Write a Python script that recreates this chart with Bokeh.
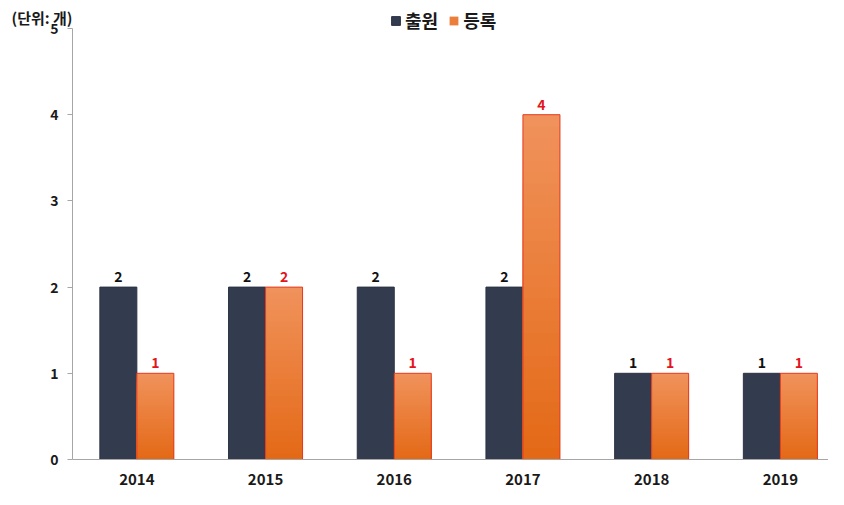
import numpy as np
from bokeh.plotting import figure
from bokeh.models import Range1d, FixedTicker, Legend, LegendItem, Label, ColumnDataSource
from bokeh.core.properties import value
from bokeh.embed import file_html
from bokeh.resources import INLINE

years = ["2014", "2015", "2016", "2017", "2018", "2019"]
series_names = ["출원", "등록"]
applied = [2, 2, 2, 2, 1, 1]
registered = [1, 2, 1, 4, 1, 1]
y_ticks = [0, 1, 2, 3, 4, 5]
unit_text = "(단위: 개)"

FONT = "Noto Sans CJK KR"
DARK = "#333c4e"
OR_TOP = np.array([0xf1, 0x93, 0x5d])
OR_BOT = np.array([0xe4, 0x69, 0x16])
OUTLINE = "#e5391f"

W, H = 828, 489
AXIS_X = 72          # px from left edge where the value axis sits
TOP5 = 28            # px from top where value 5 sits
ZERO = 459           # px from top where value 0 sits
CAT_PX = 128.7
BW = 37 / CAT_PX
YMAX = 5
UNIT_PX = (ZERO - TOP5) / YMAX
YTOP = ZERO / UNIT_PX
YBOT = -(H - ZERO) / UNIT_PX
XMIN = -AXIS_X / CAT_PX
XMAX = (W - AXIS_X) / CAT_PX

centers = np.arange(len(years)) + 0.5

p = figure(width=W, height=H, output_backend="svg", toolbar_location=None,
           x_range=Range1d(XMIN, XMAX), y_range=Range1d(YBOT, YTOP),
           min_border=0)
p.outline_line_color = None
p.xgrid.visible = False
p.ygrid.visible = False
p.background_fill_color = "white"
p.border_fill_color = "white"

# 출원 bars
src_a = ColumnDataSource(dict(x=centers - BW / 2, top=applied, lab=[str(v) for v in applied]))
r_a = p.vbar(x="x", top="top", bottom=0, width=BW, source=src_a, fill_color=DARK,
             line_color="#2b3344", line_width=1)

# 등록 bars with vertical gradient (nested bars, tallest first)
N = 30
xs, tops, cols = [], [], []
for k in range(N - 1, -1, -1):
    f = (k + 0.5) / N
    rgb = (OR_BOT + (OR_TOP - OR_BOT) * f).astype(int)
    col = "#%02x%02x%02x" % tuple(rgb)
    for c, v in zip(centers, registered):
        xs.append(c + BW / 2)
        tops.append(v * (k + 1) / N)
        cols.append(col)
r_r = p.vbar(x=xs, bottom=0, top=tops, width=BW, fill_color=cols, line_color=None)
src_r = ColumnDataSource(dict(x=centers + BW / 2, top=registered, lab=[str(v) for v in registered]))
p.vbar(x="x", top="top", bottom=0, width=BW, source=src_r, fill_color=None, line_color=OUTLINE, line_width=1)

# value labels
p.text(x="x", y="top", text="lab", source=src_a, text_align="center", text_baseline="bottom",
       y_offset=-5, text_font=value(FONT), text_font_style="bold", text_font_size="14px", text_color="#111111")
p.text(x="x", y="top", text="lab", source=src_r, text_align="center", text_baseline="bottom",
       y_offset=-5, text_font=value(FONT), text_font_style="bold", text_font_size="14px", text_color="#e3141c")

# axes
xa = p.xaxis[0]
xa.fixed_location = 0
xa.ticker = FixedTicker(ticks=list(centers))
xa.major_label_overrides = {float(c): y for c, y in zip(centers, years)}
xa.bounds = (0, XMAX)
xa.major_tick_line_color = None
xa.minor_tick_line_color = None
xa.axis_line_color = "#a6a6a6"
xa.major_label_text_font = FONT
xa.major_label_text_font_style = "bold"
xa.major_label_text_font_size = "15px"
xa.major_label_text_color = "#1a1a1a"
xa.major_label_standoff = 8

ya = p.yaxis[0]
ya.fixed_location = 0
ya.bounds = (0, YMAX)
ya.ticker = FixedTicker(ticks=y_ticks)
ya.minor_tick_line_color = None
ya.major_tick_out = 5
ya.major_tick_in = 0
ya.major_tick_line_color = "#a6a6a6"
ya.axis_line_color = "#a6a6a6"
ya.major_label_text_font = FONT
ya.major_label_text_font_style = "bold"
ya.major_label_text_font_size = "14px"
ya.major_label_text_color = "#1a1a1a"
ya.major_label_standoff = 9

# legend (uses the real bar renderers; 등록 swatch takes a mid-gradient colour)
mid_idx = (N - 1 - N // 2) * len(years)
legend = Legend(items=[LegendItem(label=series_names[0], renderers=[r_a], index=0),
                       LegendItem(label=series_names[1], renderers=[r_r], index=mid_idx)],
                location=(390, H - 33), orientation="horizontal",
                glyph_width=11, glyph_height=11, label_standoff=4, spacing=10,
                padding=0, margin=0, border_line_color=None, background_fill_alpha=0,
                label_text_font=FONT, label_text_font_style="bold", label_text_font_size="18px",
                label_text_color="#1a1a1a", label_height=22)
p.add_layout(legend, "center")

# unit label at the top-left corner
unit = Label(x=XMIN + 11 / CAT_PX, y=(ZERO - 17) / UNIT_PX, text=unit_text,
             text_font=FONT, text_font_style="bold", text_font_size="15px", text_color="#1a1a1a",
             text_baseline="middle", text_align="left")
p.add_layout(unit)

open("out.html", "w").write(file_html(p, INLINE))
